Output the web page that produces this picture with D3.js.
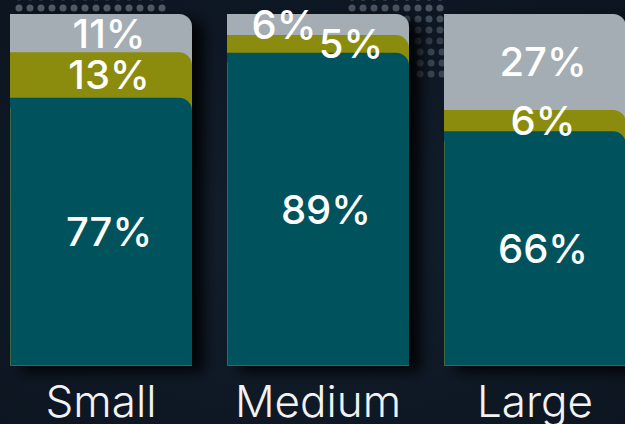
<!DOCTYPE html>
<html><head><meta charset="utf-8">
<script src="https://cdn.jsdelivr.net/npm/d3@7"></script>
<style>html,body{margin:0;padding:0;background:#101a26;overflow:hidden}svg{display:block}</style>
</head><body>
<svg id="c" width="625" height="424"></svg>
<script>
const categories = ["Small", "Medium", "Large"];
const seriesNames = ["Core", "Mid", "Other"];
const coreValues  = [77, 89, 66];
const midValues   = [13, 5, 6];
const otherValues = [11, 6, 27];
const colors = ["#02525d", "#8b8c0a", "#a3adb3"];

const W = 625, H = 424;
const svg = d3.select("#c");
const defs = svg.append("defs");

const bg = defs.append("radialGradient").attr("id","bg").attr("cx","50%").attr("cy","55%").attr("r","70%");
bg.append("stop").attr("offset","0%").attr("stop-color","#131f2d");
bg.append("stop").attr("offset","100%").attr("stop-color","#0c1520");
svg.append("rect").attr("width",W).attr("height",H).attr("fill","url(#bg)");

const f = defs.append("filter").attr("id","sh").attr("x","-20%").attr("y","-20%").attr("width","160%").attr("height","160%");
f.append("feGaussianBlur").attr("in","SourceAlpha").attr("stdDeviation",7).attr("result","b");
f.append("feOffset").attr("in","b").attr("dx",12).attr("dy",6).attr("result","o");
f.append("feFlood").attr("flood-color","#000").attr("flood-opacity",0.85);
f.append("feComposite").attr("in2","o").attr("operator","in").attr("result","s");
const m = f.append("feMerge");
m.append("feMergeNode").attr("in","s");
m.append("feMergeNode").attr("in","SourceGraphic");

// decorative dot pattern
const dots = [];
d3.range(19, 170, 11).forEach(x => { dots.push([x,-3,0.6]); dots.push([x,8,0.85]); });
d3.range(352, 442, 11).forEach(x => d3.range(-3, 45, 11).forEach(y => dots.push([x,y, 0.4 + 0.45*(1-(y+3)/50)])));
d3.range(420, 445, 11).forEach(x => d3.range(52, 80, 11).forEach(y => dots.push([x,y,0.55])));
svg.append("g").selectAll("circle").data(dots).join("circle")
  .attr("cx",d=>d[0]).attr("cy",d=>d[1]).attr("r",3.5)
  .attr("fill","#5e6874").attr("opacity",d=>d[2]);

const x = d3.scaleBand().domain(categories).range([10, 626]).paddingInner(35/217).paddingOuter(0);
const y = d3.scaleLinear().domain([0, 1]).range([366, 14]);

const data = categories.map((c,i) => {
  const vals = [coreValues[i], midValues[i], otherValues[i]];
  const tot = d3.sum(vals);
  let acc = 0;
  const segs = vals.map((v,k) => { const s = {cat:c, k, v, y0:acc/tot, y1:(acc+v)/tot}; acc += v; return s; });
  return {cat:c, segs};
});

function topRounded(x0, yTop, w, yBot, r) {
  return `M${x0},${yBot}V${yTop}H${x0+w-r}A${r},${r} 0 0 1 ${x0+w},${yTop+r}V${yBot}Z`;
}

const bars = svg.append("g").selectAll("g.bar").data(data).join("g").attr("class","bar")
  .attr("filter","url(#sh)");
bars.each(function(d) {
  const g = d3.select(this);
  const x0 = x(d.cat), w = x.bandwidth();
  d.segs.slice().reverse().forEach(s => {
    g.append("path").attr("d", topRounded(x0, y(s.y1), w, y(0), 13)).attr("fill", colors[s.k]);
  });
  g.append("path").attr("d", `M${x0+0.5},${y(d.segs[0].y1)+10}V${y(0)-0.5}H${x0+w}`)
    .attr("fill","none").attr("stroke","#3b6b4c").attr("stroke-width",1);
});

// value labels
const lab = svg.append("g").attr("font-family","Inter, 'Open Sans', sans-serif").attr("font-weight",500)
  .attr("font-size",40).attr("fill","#ffffff").attr("text-anchor","middle");
data.forEach(d => {
  const cx = x(d.cat) + x.bandwidth()/2;
  d.segs.forEach((s,k) => {
    const h = y(s.y0) - y(s.y1);
    const nb = d.segs.filter((o,j)=>Math.abs(j-k)===1).some(o => (y(o.y0)-y(o.y1)) < 24);
    let dx = 8;
    if (h < 24 && nb) dx = (k === 2 ? -34 : 33);
    lab.append("text").attr("x", cx + dx).attr("y", (y(s.y0)+y(s.y1))/2)
      .attr("dy","0.36em").text(s.v + "%");
  });
});

// category labels
svg.append("g").selectAll("text").data(categories).join("text")
  .attr("x", d => x(d) + x.bandwidth()/2).attr("y", 417)
  .attr("text-anchor","middle").attr("font-family","Inter, 'Open Sans', sans-serif")
  .attr("font-weight",300).attr("font-size",44).attr("fill","#f2f2f2").text(d=>d);
</script>
</body></html>
